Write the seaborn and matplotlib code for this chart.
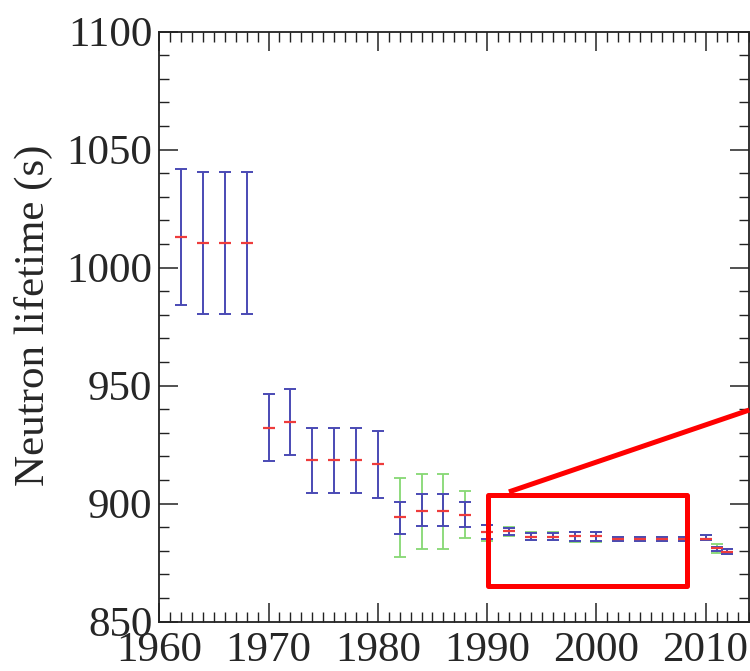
import numpy as np
import pandas as pd
import seaborn as sns
import matplotlib.pyplot as plt
from matplotlib.ticker import MultipleLocator
from matplotlib.patches import Rectangle

years = [1962, 1964, 1966, 1968, 1970, 1972, 1974, 1976, 1978, 1980,
         1982, 1984, 1986, 1988, 1990, 1992, 1994, 1996, 1998, 2000,
         2002, 2004, 2006, 2008, 2010, 2011, 2012]
lifetime = [1012.9, 1010.3, 1010.3, 1010.3, 932.2, 934.7, 918.3, 918.3, 918.3, 916.7,
            894.3, 896.9, 896.9, 895.0, 888.1, 888.6, 885.9, 885.9, 886.1, 886.1,
            885.1, 885.1, 885.1, 885.1, 885.2, 881.1, 879.7]
blue_hi = [1041.7, 1040.4, 1040.4, 1040.4, 946.4, 948.7, 932.2, 932.2, 932.2, 930.8,
           900.8, 904.1, 904.1, 900.8, 890.8, 889.5, 887.7, 887.7, 888.0, 888.0,
           886.0, 886.0, 886.0, 886.0, 886.6, 881.6, 880.7]
blue_lo = [984.1, 980.3, 980.3, 980.3, 918.0, 920.5, 904.4, 904.4, 904.4, 902.6,
           887.3, 890.5, 890.5, 890.0, 885.2, 886.7, 884.8, 884.8, 884.1, 884.1,
           884.3, 884.3, 884.3, 884.3, 884.4, 880.0, 878.7]
green_hi = [np.nan] * 10 + [910.8, 912.7, 912.7, 905.2, 891.1, 890.2, 887.8, 887.8, 888.1, 888.1,
                            886.0, 886.0, 886.0, 886.0, 886.6, 883.1, 880.8]
green_lo = [np.nan] * 10 + [877.2, 880.9, 880.9, 885.4, 884.3, 886.4, 884.5, 884.5, 883.9, 883.9,
                            884.3, 884.3, 884.3, 884.3, 884.4, 879.3, 878.5]

# zoom box and pointer line
box_x = [1990.1, 2008.3]
box_y = [865.3, 903.7]
pointer_x = [1992.0, 2014.0]
pointer_y = [905.0, 939.7]

df = pd.DataFrame({'year': years, 'tau': lifetime,
                   'b_hi': blue_hi, 'b_lo': blue_lo,
                   'g_hi': green_hi, 'g_lo': green_lo})

sns.set_theme(style='ticks')
plt.rcParams['font.family'] = ['Liberation Serif', 'DejaVu Serif']

fig = plt.figure(figsize=(7.5, 6.71), dpi=100)
ax = fig.add_axes([0.2124, 0.0735, 0.7867, 0.8793])

blue = '#4a4ab4'
green = '#86d873'
red = '#ee3c3c'

# green (wider) bars first
g = df.dropna()
ax.errorbar(g['year'], g['tau'], yerr=[g['tau'] - g['g_lo'], g['g_hi'] - g['tau']],
            fmt='none', ecolor=green, elinewidth=1.3, capsize=4, capthick=1.3, zorder=2)
ax.errorbar(df['year'], df['tau'], yerr=[df['tau'] - df['b_lo'], df['b_hi'] - df['tau']],
            fmt='none', ecolor=blue, elinewidth=1.4, capsize=4, capthick=1.4, zorder=3)
sns.scatterplot(data=df, x='year', y='tau', marker='_', s=64, color=red,
                linewidth=1.6, ax=ax, zorder=4, legend=False)

ax.add_patch(Rectangle((box_x[0], box_y[0]), box_x[1] - box_x[0], box_y[1] - box_y[0],
                       fill=False, edgecolor='#ff0000', linewidth=3.6, zorder=5,
                       joinstyle='round'))
ax.plot(pointer_x, pointer_y, color='#ff0000', linewidth=3.6, zorder=5,
        solid_capstyle='butt', clip_on=False)

ax.set_xlim(1960, 2014)
ax.set_ylim(850, 1100)
ax.set_xticks([1960, 1970, 1980, 1990, 2000, 2010])
ax.set_yticks([850, 900, 950, 1000, 1050, 1100])
ax.xaxis.set_minor_locator(MultipleLocator(1))
ax.yaxis.set_minor_locator(MultipleLocator(10))
ax.tick_params(which='both', direction='in', top=True, right=True, color='#222222')
ax.tick_params(which='major', length=13.5, width=1.1, labelsize=31, pad=5)
ax.tick_params(axis='x', which='major', pad=7)
ax.tick_params(which='minor', length=7, width=1.0)
for s in ax.spines.values():
    s.set_linewidth(1.3)
    s.set_color('#222222')

ax.set_xlabel('')
ax.set_ylabel('Neutron lifetime (s)', fontsize=31)
ax.yaxis.set_label_coords(-0.18, 0.52)

fig.savefig('out.png', dpi=100)
